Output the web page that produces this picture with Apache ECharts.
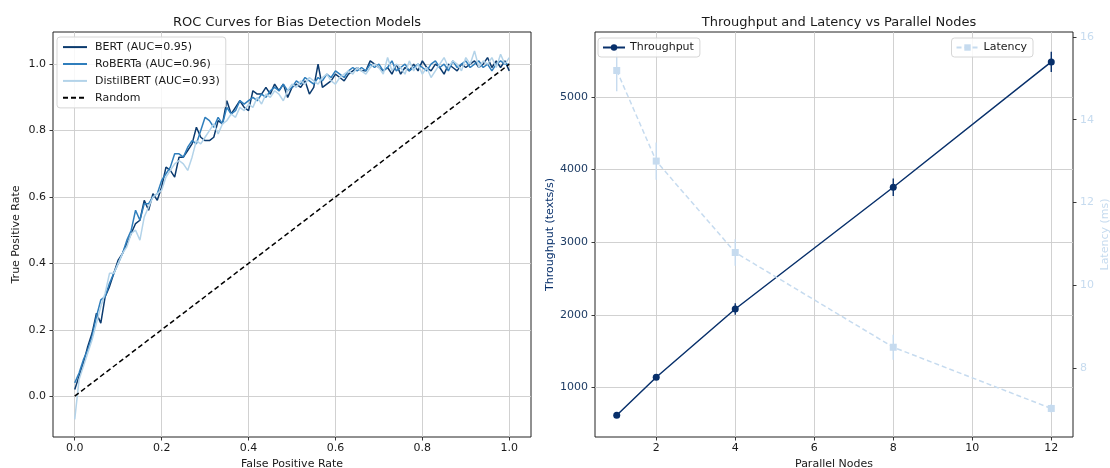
<!DOCTYPE html>
<html>
<head>
<meta charset="utf-8">
<script src="https://cdn.jsdelivr.net/npm/echarts@6/dist/echarts.min.js"></script>
<style>
html,body{margin:0;padding:0;background:#fff;}
#chart{width:1110px;height:468px;}
</style>
</head>
<body>
<div id="chart"></div>
<script>
// ---------- ROC data ----------
const fpr = [0.00,0.01,0.02,0.03,0.04,0.05,0.06,0.07,0.08,0.09,
0.10,0.11,0.12,0.13,0.14,0.15,0.16,0.17,0.18,0.19,
0.20,0.21,0.22,0.23,0.24,0.25,0.26,0.27,0.28,0.29,
0.30,0.31,0.32,0.33,0.34,0.35,0.36,0.37,0.38,0.39,
0.40,0.41,0.42,0.43,0.44,0.45,0.46,0.47,0.48,0.49,
0.50,0.51,0.52,0.53,0.54,0.55,0.56,0.57,0.58,0.59,
0.60,0.61,0.62,0.63,0.64,0.65,0.66,0.67,0.68,0.69,
0.70,0.71,0.72,0.73,0.74,0.75,0.76,0.77,0.78,0.79,
0.80,0.81,0.82,0.83,0.84,0.85,0.86,0.87,0.88,0.89,
0.90,0.91,0.92,0.93,0.94,0.95,0.96,0.97,0.98,0.99,1.00];

const bertTpr = [0.02,0.06,0.10,0.15,0.19,0.25,0.22,0.30,0.33,0.37,
0.41,0.43,0.46,0.49,0.52,0.53,0.59,0.56,0.61,0.59,
0.63,0.69,0.68,0.66,0.72,0.72,0.74,0.76,0.81,0.78,
0.77,0.77,0.78,0.83,0.82,0.89,0.85,0.87,0.89,0.87,
0.86,0.92,0.91,0.91,0.93,0.91,0.94,0.92,0.94,0.90,
0.93,0.94,0.93,0.95,0.91,0.93,1.00,0.93,0.94,0.95,
0.97,0.96,0.95,0.97,0.98,0.99,0.98,0.98,1.01,1.00,
0.99,0.98,0.99,0.97,1.00,0.97,0.99,0.98,1.00,0.98,
1.01,0.99,0.98,1.00,0.99,0.97,1.00,0.99,0.98,1.00,
0.99,1.00,1.01,0.99,1.00,1.02,0.99,1.01,0.99,1.01,0.98];

const robertaTpr = [0.04,0.07,0.11,0.14,0.18,0.24,0.29,0.30,0.34,0.37,
0.40,0.43,0.47,0.50,0.56,0.53,0.58,0.58,0.60,0.61,
0.65,0.67,0.69,0.73,0.73,0.72,0.75,0.77,0.76,0.80,
0.84,0.83,0.81,0.84,0.82,0.87,0.85,0.86,0.89,0.88,
0.89,0.90,0.89,0.91,0.90,0.92,0.93,0.92,0.94,0.92,
0.93,0.95,0.94,0.96,0.95,0.94,0.96,0.95,0.97,0.96,
0.98,0.97,0.96,0.98,0.99,0.98,0.99,0.98,1.00,0.99,
1.00,0.98,0.99,1.01,0.98,0.99,1.00,0.98,0.99,1.00,
0.99,0.98,1.00,1.01,0.99,1.00,0.98,1.01,0.99,1.00,
1.01,0.99,1.00,1.01,0.99,1.00,0.98,1.00,1.01,1.00,1.00];

const distilTpr = [-0.07,0.05,0.09,0.13,0.17,0.22,0.27,0.31,0.37,0.37,
0.40,0.43,0.45,0.49,0.50,0.47,0.54,0.57,0.60,0.61,
0.62,0.66,0.68,0.70,0.71,0.70,0.68,0.72,0.77,0.76,
0.78,0.80,0.82,0.79,0.82,0.83,0.85,0.84,0.87,0.86,
0.88,0.87,0.90,0.88,0.91,0.90,0.92,0.91,0.89,0.92,
0.94,0.93,0.95,0.94,0.96,0.95,0.94,0.96,0.97,0.95,
0.94,0.96,0.97,0.98,0.97,0.99,0.98,0.97,0.99,1.00,
0.99,0.97,1.02,0.98,1.00,0.99,0.97,1.01,0.98,1.00,
0.97,0.99,0.96,0.98,1.00,1.02,0.99,1.01,1.00,0.98,
1.02,1.00,1.04,0.99,1.01,1.00,1.02,0.99,1.03,1.00,1.02];

const randomX = [0, 1];
const randomY = [0, 1];
const rocTicks = [0.0, 0.2, 0.4, 0.6, 0.8, 1.0];

// ---------- Scaling data ----------
const nodes = [1, 2, 4, 8, 12];
const throughput = [619, 1142, 2082, 3757, 5482];
const throughputErr = [20, 35, 80, 120, 140];
const latency = [15.19, 13.0, 10.79, 8.50, 7.02];
const latencyErr = [0.5, 0.45, 0.32, 0.3, 0.1];
const nodeTicks = [2, 4, 6, 8, 10, 12];
const throughputTicks = [1000, 2000, 3000, 4000, 5000];
const latencyTicks = [8, 10, 12, 14, 16];

// ---------- styling ----------
const FONT = 'DejaVu Sans';
const TXT = '#1a1a1a';
const C_BERT = '#0b3a6e';
const C_ROB = '#2f7ebc';
const C_DIS = '#b3d3e9';
const C_TP = '#08306b';
const C_LAT = '#c6dbef';
const GRIDC = '#cccccc';

const pairs = (xs, ys) => xs.map((x, i) => [x, ys[i]]);
const errData = (xs, ys, es) => xs.map((x, i) => [x, ys[i] - es[i], ys[i] + es[i]]);

function errRender(color) {
  return function (params, api) {
    const x = api.value(0), lo = api.value(1), hi = api.value(2);
    const p1 = api.coord([x, lo]);
    const p2 = api.coord([x, hi]);
    return {
      type: 'line',
      shape: { x1: p1[0], y1: p1[1], x2: p2[0], y2: p2[1] },
      style: { stroke: color, lineWidth: 1.4 }
    };
  };
}

const tickStyle = (vals) => ({ show: true, inside: false, length: 3.5, customValues: vals, lineStyle: { color: '#222', width: 0.9 } });
const legendBox = { padding: [3, 6, 3, 4], itemWidth: 22, backgroundColor: 'rgba(255,255,255,0.85)',
  borderColor: '#d6d6d6', borderWidth: 1, borderRadius: 3,
  textStyle: { fontFamily: FONT, fontSize: 11, color: TXT, lineHeight: 13 } };

const chart = echarts.init(document.getElementById('chart'), null, { renderer: 'canvas' });

const option = {
  animation: false,
  backgroundColor: '#fff',
  textStyle: { fontFamily: FONT },
  title: [
    { text: 'ROC Curves for Bias Detection Models', left: 292, top: 11, textAlign: 'center',
      textStyle: { fontFamily: FONT, fontSize: 13, fontWeight: 'normal', color: TXT } },
    { text: 'Throughput and Latency vs Parallel Nodes', left: 834, top: 11, textAlign: 'center',
      textStyle: { fontFamily: FONT, fontSize: 13, fontWeight: 'normal', color: TXT } }
  ],
  legend: [
    Object.assign({}, legendBox, { orient: 'vertical', left: 57, top: 37, itemWidth: 24, itemHeight: 10, itemGap: 3.7,
      padding: [3.5, 6, 3.5, 5],
      textStyle: { fontFamily: FONT, fontSize: 11, color: TXT, lineHeight: 13.2, padding: [0, 0, 0, 3] },
      itemStyle: { opacity: 0, color: 'transparent', borderWidth: 0 },
      data: ['BERT (AUC=0.95)', 'RoBERTa (AUC=0.96)', 'DistilBERT (AUC=0.93)', 'Random'] }),
    Object.assign({}, legendBox, { orient: 'vertical', left: 598, top: 38, itemHeight: 8, data: ['Throughput'] }),
    Object.assign({}, legendBox, { orient: 'vertical', right: 77, top: 38, itemHeight: 8, data: ['Latency'] })
  ],
  grid: [
    { left: 53, top: 32, width: 478, height: 405, outerBoundsMode: 'none', containLabel: false,
      show: true, borderColor: '#222', borderWidth: 1, backgroundColor: 'transparent' },
    { left: 595, top: 32, width: 478, height: 405, outerBoundsMode: 'none', containLabel: false,
      show: true, borderColor: '#222', borderWidth: 1, backgroundColor: 'transparent' }
  ],
  xAxis: [
    { type: 'value', gridIndex: 0, min: -0.05, max: 1.05,
      name: 'False Positive Rate', nameLocation: 'middle', nameGap: 20,
      nameTextStyle: { fontFamily: FONT, fontSize: 11, color: TXT },
      axisLine: { show: false, onZero: false },
      axisTick: tickStyle(rocTicks),
      axisLabel: { customValues: rocTicks, formatter: v => v.toFixed(1), fontFamily: FONT, fontSize: 11, color: TXT, margin: 6 },
      splitLine: { show: true, lineStyle: { color: GRIDC, width: 0.9 } } },
    { type: 'value', gridIndex: 1, min: 0.45, max: 12.55,
      name: 'Parallel Nodes', nameLocation: 'middle', nameGap: 20,
      nameTextStyle: { fontFamily: FONT, fontSize: 11, color: TXT },
      axisLine: { show: false, onZero: false },
      axisTick: tickStyle(nodeTicks),
      axisLabel: { customValues: nodeTicks, formatter: v => String(v), fontFamily: FONT, fontSize: 11, color: TXT, margin: 6 },
      splitLine: { show: true, lineStyle: { color: GRIDC, width: 0.9 } } }
  ],
  yAxis: [
    { type: 'value', gridIndex: 0, min: -0.123, max: 1.097,
      name: 'True Positive Rate', nameLocation: 'middle', nameGap: 31,
      nameTextStyle: { fontFamily: FONT, fontSize: 11, color: TXT },
      axisLine: { show: false, onZero: false },
      axisTick: tickStyle(rocTicks),
      axisLabel: { customValues: rocTicks, formatter: v => v.toFixed(1), fontFamily: FONT, fontSize: 11, color: TXT, margin: 7 },
      splitLine: { show: true, lineStyle: { color: GRIDC, width: 0.9 } } },
    { type: 'value', gridIndex: 1, min: 320, max: 5894, position: 'left',
      name: 'Throughput (texts/s)', nameLocation: 'middle', nameGap: 39,
      nameTextStyle: { fontFamily: FONT, fontSize: 11, color: C_TP },
      axisLine: { show: false, onZero: false },
      axisTick: tickStyle(throughputTicks),
      axisLabel: { customValues: throughputTicks, formatter: v => String(v), fontFamily: FONT, fontSize: 11, color: '#1d3b63', margin: 7 },
      splitLine: { show: true, lineStyle: { color: GRIDC, width: 0.9 } } },
    { type: 'value', gridIndex: 1, min: 6.33, max: 16.12, position: 'right',
      name: 'Latency (ms)', nameLocation: 'middle', nameGap: 27, nameRotate: 90,
      nameTextStyle: { fontFamily: FONT, fontSize: 11, color: C_LAT },
      axisLine: { show: false, onZero: false },
      axisTick: tickStyle(latencyTicks),
      axisLabel: { customValues: latencyTicks, formatter: v => String(v), fontFamily: FONT, fontSize: 11, color: C_LAT, margin: 7 },
      splitLine: { show: false } }
  ],
  series: [
    { name: 'BERT (AUC=0.95)', type: 'line', xAxisIndex: 0, yAxisIndex: 0, data: pairs(fpr, bertTpr),
      symbol: 'none', lineStyle: { color: C_BERT, width: 1.5 }, itemStyle: { color: C_BERT } },
    { name: 'RoBERTa (AUC=0.96)', type: 'line', xAxisIndex: 0, yAxisIndex: 0, data: pairs(fpr, robertaTpr),
      symbol: 'none', lineStyle: { color: C_ROB, width: 1.5 }, itemStyle: { color: C_ROB } },
    { name: 'DistilBERT (AUC=0.93)', type: 'line', xAxisIndex: 0, yAxisIndex: 0, data: pairs(fpr, distilTpr),
      symbol: 'none', lineStyle: { color: C_DIS, width: 1.5 }, itemStyle: { color: C_DIS } },
    { name: 'Random', type: 'line', xAxisIndex: 0, yAxisIndex: 0, data: pairs(randomX, randomY),
      symbol: 'none', lineStyle: { color: '#000', width: 1.5, type: [5, 3] }, itemStyle: { color: '#000' } },

    { name: 'Throughput', type: 'line', xAxisIndex: 1, yAxisIndex: 1, data: pairs(nodes, throughput),
      symbol: 'circle', symbolSize: 7, lineStyle: { color: C_TP, width: 1.5 }, itemStyle: { color: C_TP } },
    { name: 'Throughput', type: 'custom', xAxisIndex: 1, yAxisIndex: 1, data: errData(nodes, throughput, throughputErr),
      encode: { x: 0, y: [1, 2] }, renderItem: errRender(C_TP), z: 3 },
    { name: 'Latency', type: 'line', xAxisIndex: 1, yAxisIndex: 2, data: pairs(nodes, latency),
      symbol: 'rect', symbolSize: 7, lineStyle: { color: C_LAT, width: 1.5, type: [5, 3] }, itemStyle: { color: C_LAT } },
    { name: 'Latency', type: 'custom', xAxisIndex: 1, yAxisIndex: 2, data: errData(nodes, latency, latencyErr),
      encode: { x: 0, y: [1, 2] }, renderItem: errRender(C_LAT), z: 3 }
  ]
};
chart.setOption(option);
</script>
</body>
</html>
